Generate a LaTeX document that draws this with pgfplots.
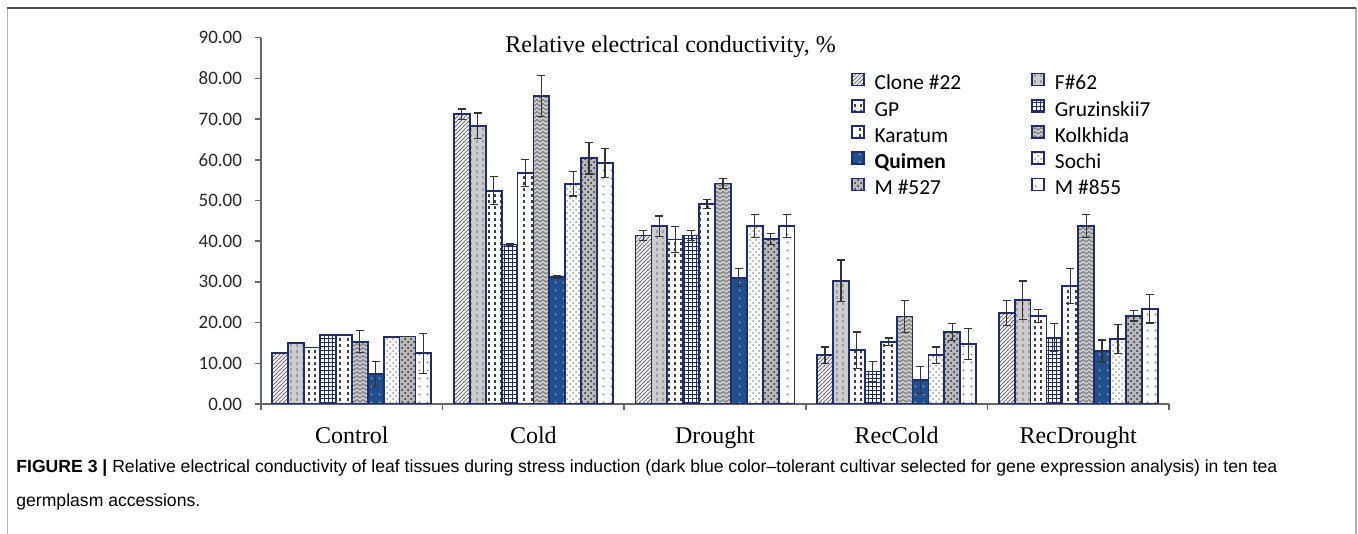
\documentclass[border=0pt]{standalone}
\usepackage{fontspec}
\setmainfont{Carlito}
\newfontfamily\tnr{Liberation Serif}
\newfontfamily\arial{Liberation Sans}
\usepackage{pgfplots}
\pgfplotsset{compat=1.18}
\usetikzlibrary{patterns}
\definecolor{navy}{HTML}{1F2D6B}
\definecolor{qblue}{HTML}{1F4F8F}

\pgfdeclarepatternformonly{vdash}{\pgfqpoint{-0.5pt}{-0.5pt}}{\pgfqpoint{3.5pt}{3.5pt}}{\pgfqpoint{3pt}{3pt}}{%
 \pgfsetlinewidth{0.6pt}\pgfpathmoveto{\pgfqpoint{1.5pt}{0.3pt}}\pgfpathlineto{\pgfqpoint{1.5pt}{1.9pt}}\pgfusepath{stroke}}
\pgfdeclarepatternformonly{vdashwide}{\pgfqpoint{-0.5pt}{-0.5pt}}{\pgfqpoint{4.5pt}{3.5pt}}{\pgfqpoint{4pt}{3pt}}{%
 \pgfsetlinewidth{0.6pt}\pgfpathmoveto{\pgfqpoint{2pt}{0.3pt}}\pgfpathlineto{\pgfqpoint{2pt}{1.9pt}}\pgfusepath{stroke}}
\pgfdeclarepatternformonly{sparsedots}{\pgfqpoint{0pt}{0pt}}{\pgfqpoint{4pt}{4pt}}{\pgfqpoint{4pt}{4pt}}{%
 \pgfpathcircle{\pgfqpoint{2pt}{2pt}}{0.5pt}\pgfusepath{fill}}
\pgfdeclarepatternformonly{finegrid}{\pgfqpoint{-0.5pt}{-0.5pt}}{\pgfqpoint{2.5pt}{2.5pt}}{\pgfqpoint{2pt}{2pt}}{%
 \pgfsetlinewidth{0.45pt}\pgfpathmoveto{\pgfqpoint{0pt}{0pt}}\pgfpathlineto{\pgfqpoint{2pt}{0pt}}\pgfpathmoveto{\pgfqpoint{0pt}{0pt}}\pgfpathlineto{\pgfqpoint{0pt}{2pt}}\pgfusepath{stroke}}
\pgfdeclarepatternformonly{finehatch}{\pgfqpoint{-0.5pt}{-0.5pt}}{\pgfqpoint{2.5pt}{2.5pt}}{\pgfqpoint{2pt}{2pt}}{%
 \pgfsetlinewidth{0.45pt}\pgfpathmoveto{\pgfqpoint{-0.1pt}{-0.1pt}}\pgfpathlineto{\pgfqpoint{2.1pt}{2.1pt}}\pgfusepath{stroke}}
\pgfdeclarepatternformonly{zigzag}{\pgfqpoint{-0.5pt}{-0.5pt}}{\pgfqpoint{3.5pt}{2.5pt}}{\pgfqpoint{3pt}{2pt}}{%
 \pgfsetlinewidth{0.5pt}\pgfpathmoveto{\pgfqpoint{0pt}{0pt}}\pgfpathlineto{\pgfqpoint{1.5pt}{1.2pt}}\pgfpathlineto{\pgfqpoint{3pt}{0pt}}\pgfusepath{stroke}}

\pgfplotsset{
 sA/.style={draw=navy, line width=0.9pt, fill=white, postaction={pattern=finehatch, pattern color=gray!90!black}},
 sB/.style={draw=navy, line width=0.9pt, fill=gray!40, postaction={pattern=vdash, pattern color=gray!75}},
 sC/.style={draw=navy, line width=0.9pt, fill=white, postaction={pattern=vdash, pattern color=black!75}},
 sD/.style={draw=navy, line width=0.9pt, fill=white, postaction={pattern=finegrid, pattern color=navy}},
 sE/.style={draw=navy, line width=0.9pt, fill=white, postaction={pattern=vdashwide, pattern color=black!75}},
 sF/.style={draw=navy, line width=0.9pt, fill=gray!40, postaction={pattern=zigzag, pattern color=gray!90!black}},
 sG/.style={draw=navy, line width=0.9pt, fill=qblue, postaction={pattern=sparsedots, pattern color=qblue!40}},
 sH/.style={draw=navy, line width=0.9pt, fill=white, postaction={pattern=crosshatch dots, pattern color=gray!80}},
 sI/.style={draw=navy, line width=0.9pt, fill=gray!55, postaction={pattern=crosshatch dots, pattern color=black!85}},
 sJ/.style={draw=navy, line width=0.9pt, fill=white, postaction={pattern=sparsedots, pattern color=gray!90!black}},
 eb/.style={error bars/.cd, y dir=both, y explicit,
   error bar style={black!80, line width=0.6pt, solid},
   error mark options={rotate=90, mark size=2pt, black!80, line width=0.6pt}},
}

\begin{document}
\begin{tikzpicture}[x=1pt,y=1pt]
\useasboundingbox (0,0) rectangle (679,267);
\draw[gray!60, line width=0.8pt] (3.65,-2) -- (3.65,262.85);
\draw[gray!60, line width=0.8pt] (677.85,-2) -- (677.85,262.85);
\draw[black!70, line width=0.8pt] (3.65,262.85) -- (677.85,262.85);
\begin{axis}[
 at={(130.5pt,65pt)}, anchor=south west,
 scale only axis, width=454pt, height=183.15pt,
 xmin=-0.5, xmax=4.5, ymin=0, ymax=90,
 ybar=0pt, bar width=7.95pt,
 axis x line*=bottom, axis y line*=left,
 axis line style={black!60, line width=0.75pt},
 tick align=outside, major tick length=3pt,
 tick style={black!60, line width=0.75pt},
 ytick={0,10,...,90},
 yticklabel style={/pgf/number format/.cd, fixed, fixed zerofill, precision=2, assume math mode=true, /tikz/.cd, font=\fontsize{9.5}{11}\selectfont, text=black!85, xshift=-3pt},
 xtick={-0.5,0.5,1.5,2.5,3.5,4.5}, xticklabels={},
 extra x ticks={0,1,2,3,4},
 extra x tick labels={Control,Cold,Drought,RecCold,RecDrought},
 extra x tick style={major tick length=0pt, xticklabel style={font=\tnr\fontsize{12}{14}\selectfont, anchor=base, yshift=-20pt}},
 legend columns=2,
 legend cell align=left,
 legend style={draw=none, fill=none, at={(rel axis cs:0.6428,0.916)}, anchor=north west,
   font=\fontsize{10.7}{12}\selectfont, row sep=2.55pt,
   nodes={inner sep=0pt, text height=7.5pt, text depth=2pt},
   /tikz/every odd column/.append style={column sep=5pt},
   /tikz/every even column/.append style={column sep=35pt}},
 legend image code/.code={\draw[#1, line width=0.8pt] (0pt,-0.6pt) rectangle (6pt,5.4pt);},
]
\addplot[sA, eb] coordinates {(0,12.45)+-(0,0) (1,71.2)+-(0,1.3) (2,41.4)+-(0,1.3) (3,12.0)+-(0,2.0) (4,22.4)+-(0,3.1)};
\addlegendentry{Clone \#22}
\addplot[sB, eb] coordinates {(0,15.06)+-(0,0) (1,68.4)+-(0,3.1) (2,43.7)+-(0,2.5) (3,30.3)+-(0,5.1) (4,25.5)+-(0,4.7)};
\addlegendentry{F\#62}
\addplot[sC, eb] coordinates {(0,13.9)+-(0,0) (1,52.4)+-(0,3.4) (2,40.4)+-(0,3.2) (3,13.2)+-(0,4.5) (4,21.6)+-(0,1.6)};
\addlegendentry{GP}
\addplot[sD, eb] coordinates {(0,16.9)+-(0,0) (1,39.2)+-(0,0.3) (2,41.4)+-(0,1.3) (3,8.0)+-(0,2.4) (4,16.3)+-(0,3.4)};
\addlegendentry{Gruzinskii7}
\addplot[sE, eb] coordinates {(0,16.9)+-(0,0) (1,56.8)+-(0,3.3) (2,49.1)+-(0,1.1) (3,15.3)+-(0,0.9) (4,29.0)+-(0,4.3)};
\addlegendentry{Karatum}
\addplot[sF, eb] coordinates {(0,15.3)+-(0,2.7) (1,75.7)+-(0,5.0) (2,54.2)+-(0,1.2) (3,21.5)+-(0,4.0) (4,43.8)+-(0,2.8)};
\addlegendentry{Kolkhida}
\addplot[sG, eb] coordinates {(0,7.4)+-(0,3.1) (1,31.2)+-(0,0.3) (2,31.0)+-(0,2.2) (3,5.9)+-(0,3.4) (4,13.0)+-(0,2.7)};
\addlegendentry{\textbf{Quimen}}
\addplot[sH, eb] coordinates {(0,16.5)+-(0,0) (1,54.1)+-(0,3.0) (2,43.7)+-(0,2.8) (3,12.0)+-(0,2.0) (4,16.0)+-(0,3.5)};
\addlegendentry{Sochi}
\addplot[sI, eb] coordinates {(0,16.6)+-(0,0) (1,60.4)+-(0,3.9) (2,40.5)+-(0,1.4) (3,17.7)+-(0,2.0) (4,21.7)+-(0,1.3)};
\addlegendentry{M \#527}
\addplot[sJ, eb] coordinates {(0,12.45)+-(0,4.9) (1,59.2)+-(0,3.6) (2,43.7)+-(0,2.8) (3,14.8)+-(0,3.8) (4,23.4)+-(0,3.5)};
\addlegendentry{M \#855}
\end{axis}
\node[font=\tnr\fontsize{12}{14}\selectfont, anchor=base, inner sep=0pt] at (335.25,240.65) {Relative electrical conductivity, \%};
\node[anchor=base west, inner sep=0pt, font=\arial\fontsize{8.8}{10}\selectfont] at (8,30.5) {\textbf{FIGURE 3 |} Relative electrical conductivity of leaf tissues during stress induction (dark blue color–tolerant cultivar selected for gene expression analysis) in ten tea};
\node[anchor=base west, inner sep=0pt, font=\arial\fontsize{8.8}{10}\selectfont] at (8,13.5) {germplasm accessions.};
\end{tikzpicture}
\end{document}
